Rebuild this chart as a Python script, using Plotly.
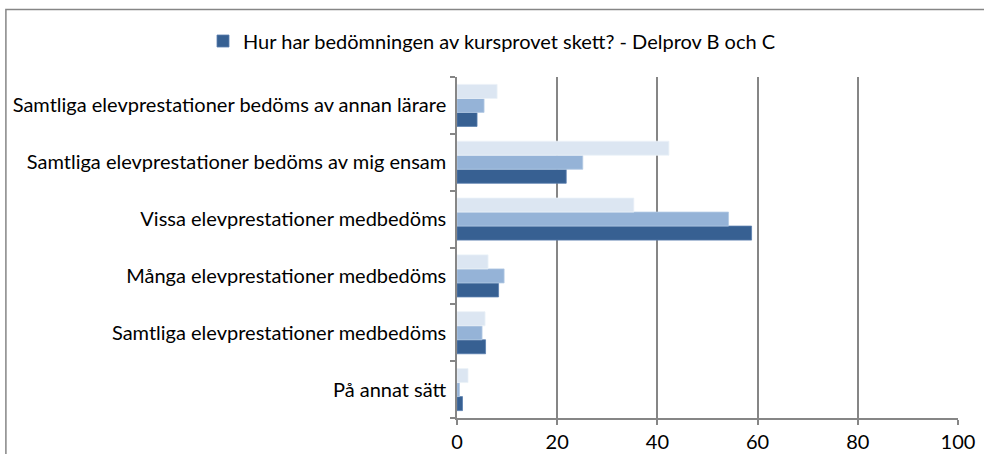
import plotly.graph_objects as go

categories = [
    "På annat sätt",
    "Samtliga elevprestationer medbedöms",
    "Många elevprestationer medbedöms",
    "Vissa elevprestationer medbedöms",
    "Samtliga elevprestationer bedöms av mig ensam",
    "Samtliga elevprestationer bedöms av annan lärare",
]
series_dark = [1.1, 5.7, 8.3, 58.8, 21.8, 4.0]
series_medium = [0.5, 5.0, 9.4, 54.2, 25.1, 5.4]
series_light = [2.2, 5.6, 6.2, 35.3, 42.3, 8.0]
legend_name = "Hur har bedömningen av kursprovet skett? - Delprov B och C"
x_ticks = [0, 20, 40, 60, 80, 100]

FONT = "Lato"
FS = 20

fig = go.Figure()
fig.add_trace(go.Bar(y=categories, x=series_dark, orientation="h", name=legend_name,
                     marker=dict(color="#376092", line=dict(color="#5a7fae", width=0.8))))
fig.add_trace(go.Bar(y=categories, x=series_medium, orientation="h", name="Serie 2", showlegend=False,
                     marker=dict(color="#95B3D7", line=dict(color="#b3c9e3", width=0.8))))
fig.add_trace(go.Bar(y=categories, x=series_light, orientation="h", name="Serie 3", showlegend=False,
                     marker=dict(color="#DCE6F2", line=dict(color="#ebf1f8", width=0.8))))

fig.update_layout(
    width=984, height=454,
    margin=dict(l=456.5, r=25.5, t=77, b=36.3, autoexpand=False),
    paper_bgcolor="white", plot_bgcolor="white",
    barmode="group", bargap=0.26, bargroupgap=0,
    font=dict(family=FONT, size=FS, color="black"),
    showlegend=True,
    legend=dict(orientation="h", xref="container", yref="container", x=0.5, y=1 - 41 / 454,
                xanchor="center", yanchor="middle", font=dict(size=FS), itemwidth=30),
    xaxis=dict(range=[0, 100], tickvals=x_ticks, showgrid=True, gridcolor="#868686", gridwidth=1.5,
               showline=True, linecolor="#868686", linewidth=1.5, ticks="outside", ticklen=5,
               tickcolor="#868686", tickwidth=1.5, zeroline=False, tickfont=dict(size=FS)),
    yaxis=dict(categoryorder="array", categoryarray=categories, showline=True, linecolor="#868686",
               linewidth=1.5, ticks="outside", ticklen=5, tickcolor="#868686", tickwidth=1.5,
               tickson="boundaries", showgrid=False, tickfont=dict(size=FS), ticklabelstandoff=5),
    shapes=[dict(type="rect", xref="paper", yref="paper",
                 x0=(4.5 - 456.5) / 502, x1=(995 - 456.5) / 502,
                 y0=(454 - 470 - 36.3) / 340.7, y1=(454 - 9.5 - 36.3) / 340.7,
                 line=dict(color="#868686", width=1.5), layer="below")],
)

fig.write_html("out.html", config={"displayModeBar": False},
               post_script="document.body.style.margin='0';")
